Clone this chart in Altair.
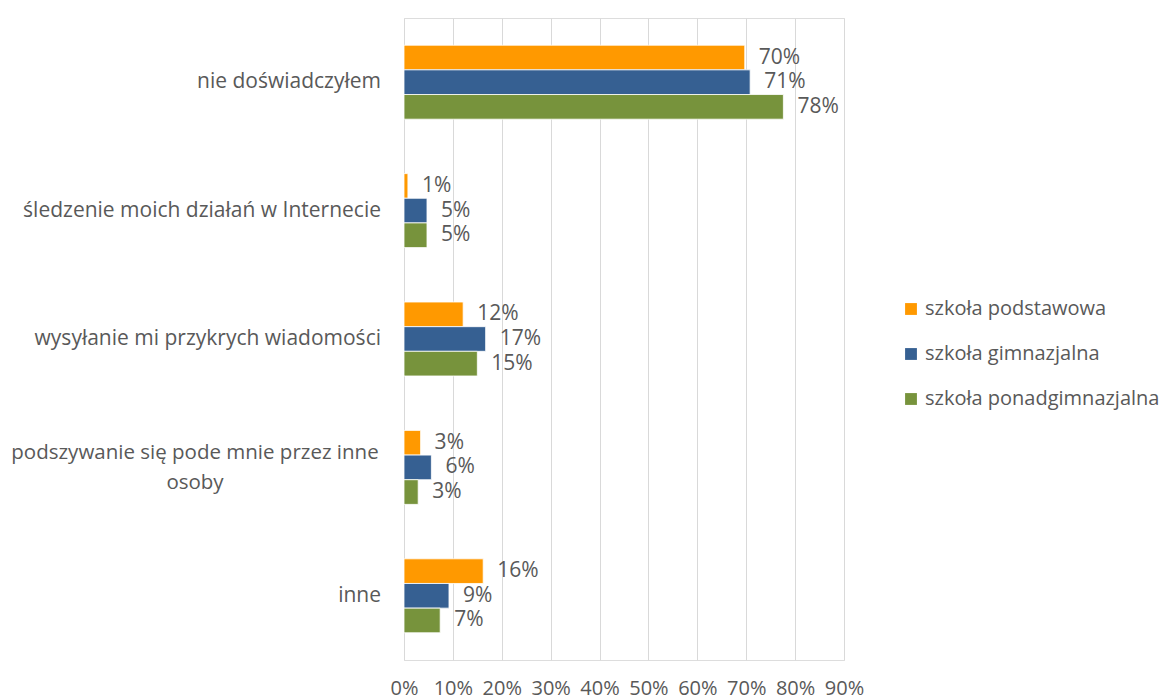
import altair as alt
import pandas as pd

categories = [
    "nie doświadczyłem",
    "śledzenie moich działań w Internecie",
    "wysyłanie mi przykrych wiadomości",
    "podszywanie się pode mnie przez inne osoby",
    "inne",
]
wrapped_label = "podszywanie się pode mnie przez inne\nosoby"
series = ["szkoła podstawowa", "szkoła gimnazjalna", "szkoła ponadgimnazjalna"]
podstawowa = [0.697, 0.008, 0.121, 0.034, 0.162]
gimnazjalna = [0.708, 0.047, 0.167, 0.056, 0.092]
ponadgimnazjalna = [0.776, 0.047, 0.150, 0.029, 0.074]
x_ticks = [0.0, 0.1, 0.2, 0.3, 0.4, 0.5, 0.6, 0.7, 0.8, 0.9]
colors = ["#FF9900", "#366092", "#77933C"]

rows = []
for s, vals in zip(series, [podstawowa, gimnazjalna, ponadgimnazjalna]):
    for c, v in zip(categories, vals):
        rows.append({"kategoria": c, "szkoła": s, "wartość": v})
df = pd.DataFrame(rows)

single = [c for c in categories if c != categories[3]]
lab_single = pd.DataFrame({"kategoria": single, "tekst": single})
lab_multi = pd.DataFrame({"kategoria": [categories[3]], "tekst": [wrapped_label]})

FONT = "Open Sans"
GREY = "#595959"
FS = 21

y_enc = alt.Y(
    "kategoria:N",
    sort=categories,
    scale=alt.Scale(domain=categories, paddingInner=0.424, paddingOuter=0.212),
    axis=None,
)
x_enc = alt.X(
    "wartość:Q",
    scale=alt.Scale(domain=[0, 0.9], nice=False),
    axis=alt.Axis(
        values=x_ticks,
        format=".0%",
        title=None,
        grid=True,
        gridColor="#D9D9D9",
        gridWidth=1,
        domain=False,
        ticks=False,
        labelFont=FONT,
        labelFontSize=20,
        labelColor=GREY,
        labelPadding=18,
        labelOverlap=False,
        labelFlush=False,
    ),
)
yoff = alt.YOffset("szkoła:N", sort=series, scale=alt.Scale(domain=series, paddingInner=0, paddingOuter=0))
color = alt.Color(
    "szkoła:N",
    sort=series,
    scale=alt.Scale(domain=series, range=colors),
    legend=alt.Legend(
        title=None,
        orient="none",
        legendX=497,
        legendY=281,
        symbolType="square",
        symbolSize=140,
        symbolStrokeWidth=0,
        labelFont=FONT,
        labelFontSize=20,
        labelColor=GREY,
        labelOffset=4,
        labelLimit=0,
        rowPadding=25,
        padding=0,
    ),
)

bars = alt.Chart(df).mark_bar(stroke="white", strokeWidth=0.8).encode(
    x=x_enc, y=y_enc, yOffset=yoff, color=color
)
values = alt.Chart(df).mark_text(
    align="left", baseline="middle", dx=14, font=FONT, fontSize=FS, color=GREY
).encode(
    x="wartość:Q", y=alt.Y("kategoria:N", sort=categories), yOffset=alt.YOffset("szkoła:N", sort=series),
    text=alt.Text("wartość:Q", format=".0%"),
)
cat_labels = alt.Chart(lab_single).mark_text(
    align="right", baseline="middle", font=FONT, fontSize=FS, color=GREY
).encode(x=alt.value(-23), y=alt.Y("kategoria:N", sort=categories), text="tekst:N")
cat_multi = alt.Chart(lab_multi).mark_text(
    align="center", baseline="middle", font=FONT, fontSize=20.5, color=GREY,
    lineBreak="\n", lineHeight=30, dy=-14,
).encode(x=alt.value(-209), y=alt.Y("kategoria:N", sort=categories), text="tekst:N")

chart = alt.layer(bars, values, cat_labels, cat_multi).properties(
    width=440,
    height=642,
    autosize=alt.AutoSizeParams(type="none"),
    padding={"left": 396, "top": 10, "right": 318, "bottom": 40},
).configure_view(stroke=None).configure(font=FONT)

chart.save("out.html", embed_options={"renderer": "svg", "actions": False})
